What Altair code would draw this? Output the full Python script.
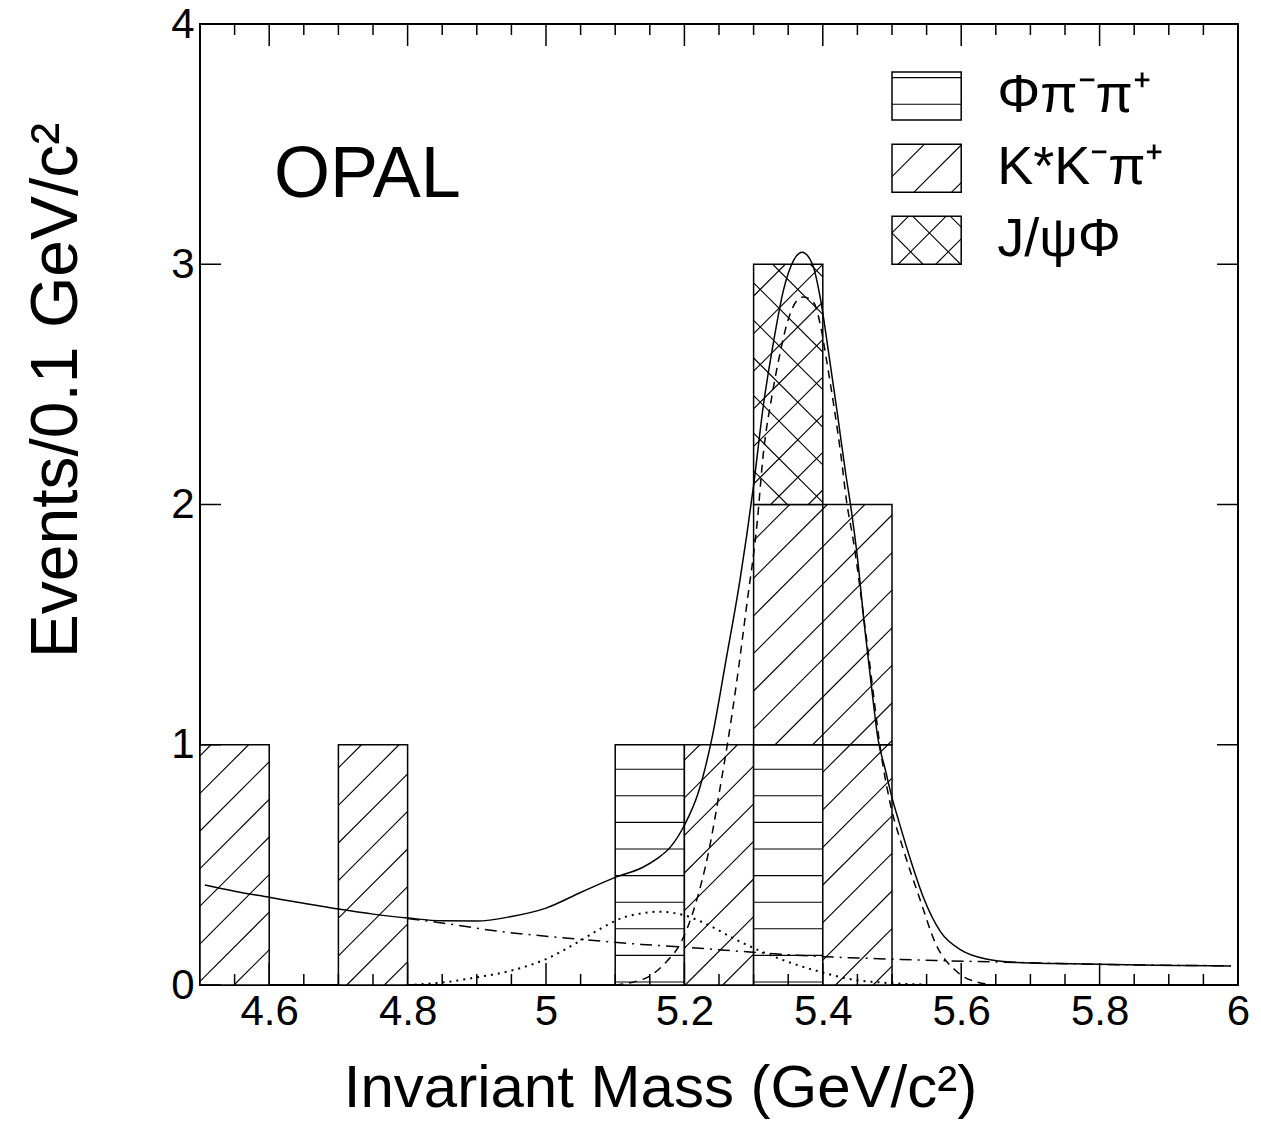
import math
import altair as alt
import pandas as pd

# ---------------- data ----------------
bin_lo = [4.5, 4.7, 5.1, 5.2, 5.3, 5.4]
bin_width = 0.1
n_phipipi = [0, 0, 1, 0, 1, 0]   # horizontal hatch
n_kstar = [1, 1, 0, 1, 1, 2]     # diagonal hatch
n_jpsiphi = [0, 0, 0, 0, 1, 0]   # cross hatch

legend_labels = ["Φπ⁻π⁺", "K*K⁻π⁺", "J/ψΦ"]
legend_kinds = ["h", "d", "x"]
legend_box_x = [5.5, 5.6]
legend_box_y = [[3.6, 3.8], [3.3, 3.5], [3.0, 3.2]]

x_label_values = [4.6, 4.8, 5.0, 5.2, 5.4, 5.6, 5.8, 6.0]
x_minor_ticks = [4.55, 4.65, 4.7, 4.75, 4.85, 4.9, 4.95, 5.05, 5.1, 5.15, 5.25, 5.3,
                 5.35, 5.45, 5.5, 5.55, 5.65, 5.7, 5.75, 5.85, 5.9, 5.95]
y_label_values = [0, 1, 2, 3, 4]

total_x = [4.507, 4.55, 4.6, 4.65, 4.7, 4.75, 4.8, 4.85, 4.9, 4.95, 5.0, 5.05, 5.1,
           5.14, 5.16, 5.18, 5.2, 5.22, 5.24, 5.26, 5.28, 5.29, 5.30, 5.314, 5.329,
           5.343, 5.358, 5.37, 5.385, 5.397, 5.409, 5.421, 5.433, 5.44, 5.45, 5.46,
           5.47, 5.48, 5.49, 5.5, 5.51, 5.528, 5.546, 5.57, 5.6, 5.636, 5.68, 5.74,
           5.8, 5.86, 5.92, 5.99]
total_y = [0.416, 0.39, 0.365, 0.340, 0.316, 0.295, 0.279, 0.267, 0.266, 0.285, 0.32,
           0.385, 0.448, 0.49, 0.525, 0.575, 0.665, 0.80, 1.03, 1.35, 1.68, 1.87, 2.08,
           2.41, 2.68, 2.89, 3.017, 3.05, 3.0, 2.85, 2.62, 2.38, 2.13, 2.0, 1.78, 1.5,
           1.25, 1.02, 0.9, 0.78, 0.68, 0.51, 0.36, 0.222, 0.145, 0.108, 0.094, 0.089,
           0.086, 0.083, 0.081, 0.079]

signal_x = [5.10, 5.13, 5.151, 5.175, 5.193, 5.217, 5.235, 5.253, 5.262, 5.275, 5.29,
            5.305, 5.314, 5.327, 5.339, 5.348, 5.363, 5.372, 5.387, 5.397, 5.406,
            5.416, 5.426, 5.435, 5.443, 5.465, 5.486, 5.498, 5.516, 5.54, 5.564,
            5.594, 5.63, 5.65]
signal_y = [0.0, 0.015, 0.039, 0.10, 0.166, 0.346, 0.554, 0.845, 1.0, 1.25, 1.58,
            1.92, 2.21, 2.46, 2.64, 2.75, 2.85, 2.864, 2.84, 2.74, 2.59, 2.41, 2.21,
            2.0, 1.87, 1.4, 0.93, 0.748, 0.568, 0.36, 0.166, 0.055, 0.007, 0.0]

refl_x = [4.80, 4.852, 4.9, 4.95, 5.0, 5.046, 5.079, 5.115, 5.138, 5.163, 5.199,
          5.235, 5.271, 5.307, 5.349, 5.396, 5.438, 5.486, 5.55]
refl_y = [0.0, 0.011, 0.032, 0.06, 0.108, 0.178, 0.235, 0.284, 0.298, 0.305, 0.291,
          0.249, 0.194, 0.145, 0.097, 0.055, 0.025, 0.01, 0.002]

bkg_x = [4.8, 4.872, 4.92, 4.993, 5.065, 5.138, 5.193, 5.259, 5.319, 5.402, 5.498,
         5.564, 5.678, 5.798, 5.989]
bkg_y = [0.277, 0.249, 0.228, 0.205, 0.186, 0.169, 0.159, 0.145, 0.132, 0.118, 0.108,
         0.102, 0.094, 0.086, 0.080]

# ---------------- layout ----------------
W, H = 1038, 961
XMIN, XMAX, YMIN, YMAX = 4.5, 6.0, 0.0, 4.0
SX = W / (XMAX - XMIN)
SY = H / (YMAX - YMIN)
FONT = "Liberation Sans"

H_PHASE, H_SP = 3.0, 26.6      # horizontal hatch (pixels)
D_PHASE, D_SP = 34.0, 37.6     # diagonal hatch (pixels, horizontal spacing)
X_PHASE = 15.0


def hatch(x0, x1, y0, y1, kind):
    u0, u1 = (x0 - XMIN) * SX, (x1 - XMIN) * SX
    v0, v1 = y0 * SY, y1 * SY
    segs = []
    if kind == "h":
        k = math.ceil((v0 - H_PHASE) / H_SP)
        while True:
            v = H_PHASE + k * H_SP
            if v >= v1:
                break
            if v > v0 + 0.5:
                segs.append((u0, v, u1, v))
            k += 1
    if kind in ("d", "x"):
        ph = D_PHASE if kind == "d" else X_PHASE
        k = math.floor((u0 - v1 - ph) / D_SP)
        while ph + k * D_SP <= u1 - v0:
            c = ph + k * D_SP
            ua, ub = max(u0, v0 + c), min(u1, v1 + c)
            if ub - ua > 0.5:
                segs.append((ua, ua - c, ub, ub - c))
            k += 1
    if kind == "x":
        ph = X_PHASE
        k = math.floor((u0 + v0 - ph) / D_SP)
        while ph + k * D_SP <= u1 + v1:
            c = ph + k * D_SP
            ua, ub = max(u0, c - v1), min(u1, c - v0)
            if ub - ua > 0.5:
                segs.append((ua, c - ua, ub, c - ub))
            k += 1
    return [dict(x=XMIN + a / SX, y=b / SY, x2=XMIN + c / SX, y2=d / SY) for a, b, c, d in segs]


boxes, lines = [], []
for lo, a, b, c in zip(bin_lo, n_phipipi, n_kstar, n_jpsiphi):
    base = 0
    for n, kind in ((a, "h"), (b, "d"), (c, "x")):
        for _ in range(n):
            boxes.append(dict(x=lo, x2=lo + bin_width, y=base, y2=base + 1))
            lines += hatch(lo, lo + bin_width, base, base + 1, kind)
            base += 1
for (ly0, ly1), kind in zip(legend_box_y, legend_kinds):
    boxes.append(dict(x=legend_box_x[0], x2=legend_box_x[1], y=ly0, y2=ly1))
    lines += hatch(legend_box_x[0], legend_box_x[1], ly0, ly1, kind)

boxes_df = pd.DataFrame(boxes)
lines_df = pd.DataFrame(lines)

xscale = alt.Scale(domain=[XMIN, XMAX], nice=False, zero=False)
yscale = alt.Scale(domain=[YMIN, YMAX], nice=False, zero=False)
xaxis = alt.Axis(values=x_label_values, format="~g", title="Invariant Mass (GeV/c²)",
                 ticks=False, domain=False, grid=False, labelFont=FONT, labelFontSize=42,
                 labelColor="black", labelPadding=6, labelFlush=False, labelOverlap=False,
                 titleFont=FONT, titleFontSize=60, titleFontWeight="normal", titleColor="black",
                 titleX=460, titleY=121, titleAlign="center", titleBaseline="alphabetic")
yaxis = alt.Axis(values=y_label_values, format="d", title="Events/0.1 GeV/c²",
                 ticks=False, domain=False, grid=False, labelFont=FONT, labelFontSize=42,
                 labelColor="black", labelPadding=6, labelFlush=False, labelOverlap=False,
                 titleFont=FONT, titleFontSize=66, titleFontWeight="normal", titleColor="black",
                 titleAngle=270, titleX=-124, titleY=366, titleAlign="center",
                 titleBaseline="alphabetic")


def X(f="x"):
    return alt.X(f"{f}:Q", scale=xscale, axis=xaxis)


def Y(f="y"):
    return alt.Y(f"{f}:Q", scale=yscale, axis=yaxis)


rects = alt.Chart(boxes_df).mark_rect(fill="white", stroke="black", strokeWidth=1.5).encode(
    x=X(), x2="x2:Q", y=Y(), y2="y2:Q")
hatch_layer = alt.Chart(lines_df).mark_rule(color="black", strokeWidth=1.1).encode(
    x=X(), x2="x2:Q", y=Y(), y2="y2:Q")


def curve(xs, ys, dash, width=1.5):
    df = pd.DataFrame({"x": xs, "y": ys})
    kw = dict(color="black", strokeWidth=width, interpolate="monotone", clip=True)
    if dash:
        kw["strokeDash"] = dash
    return alt.Chart(df).mark_line(**kw).encode(x=X(), y=Y())


c_bkg = curve(bkg_x, bkg_y, [12, 6, 2, 6])
c_refl = curve(refl_x, refl_y, [2, 5], 2)
c_sig = curve(signal_x, signal_y, [8, 6])
c_tot = curve(total_x, total_y, None)


def xticks(vals, y1, y2):
    return alt.Chart(pd.DataFrame({"x": vals})).mark_rule(color="black", strokeWidth=1.5).encode(
        x=X(), y=alt.value(y1), y2=alt.value(y2))


def yticks(vals, x1, x2):
    return alt.Chart(pd.DataFrame({"y": vals})).mark_rule(color="black", strokeWidth=1.5).encode(
        y=Y(), x=alt.value(x1), x2=alt.value(x2))


ticks = [
    xticks(x_label_values, H, H - 22), xticks(x_minor_ticks, H, H - 11),
    xticks(x_label_values, 0, 22), xticks(x_minor_ticks, 0, 11),
    yticks(y_label_values, 0, 21), yticks(y_label_values, W, W - 21),
]

opal = alt.Chart(pd.DataFrame({"x": [4.607], "y": [3.37], "t": ["OPAL"]})).mark_text(
    font=FONT, fontSize=72, align="left", baseline="middle", color="black").encode(
    x=X(), y=Y(), text="t:N")

leg_text = alt.Chart(pd.DataFrame({
    "x": [5.652] * 3, "y": [(a + b) / 2 for a, b in legend_box_y], "t": legend_labels})).mark_text(
    font=FONT, fontSize=54, align="left", baseline="middle", color="black").encode(
    x=X(), y=Y(), text="t:N")

chart = alt.layer(rects, hatch_layer, c_bkg, c_refl, c_sig, c_tot, *ticks, opal, leg_text).properties(
    width=W, height=H,
    autosize=alt.AutoSizeParams(type="none"),
    padding={"left": 192, "top": 16, "right": 15, "bottom": 140},
    background="white",
).configure_view(stroke="black", strokeWidth=2)

chart.save("out.html", embed_options={"renderer": "svg", "actions": False})
